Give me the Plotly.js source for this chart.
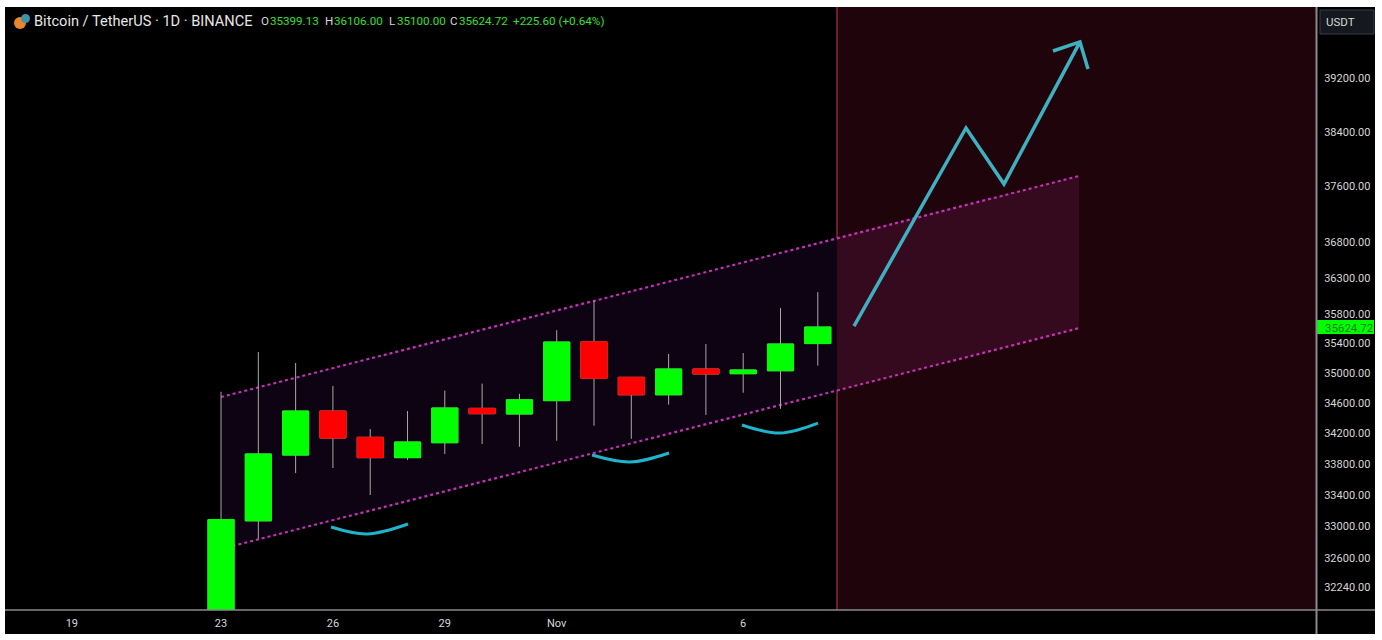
<!DOCTYPE html>
<html>
<head>
<meta charset="utf-8">
<script src="https://cdn.plot.ly/plotly-3.0.1.min.js"></script>
<style>
html,body{margin:0;padding:0;background:#fff;width:1382px;height:640px;overflow:hidden}
#chart{position:absolute;left:5px;top:7px;width:1370px;height:627px}
</style>
</head>
<body>
<div id="chart"></div>
<script>
const days = ['2023-10-23','2023-10-24','2023-10-25','2023-10-26','2023-10-27','2023-10-28','2023-10-29','2023-10-30','2023-10-31','2023-11-01','2023-11-02','2023-11-03','2023-11-04','2023-11-05','2023-11-06','2023-11-07','2023-11-08'];
const opens  = [31800,33070,33916,34494,34148,33882,34077,34530,34455,34632,35424,34944,34710,35055,34992,35032,35399.13];
const highs  = [34750,35285,35136,34829,34257,34494,34766,34859,34723,35582,35988,34948,35258,35393,35271,35885,36106];
const lows   = [31700,32841,33683,33748,33399,33852,33930,34060,34025,34103,34300,34129,34579,34442,34737,34523,35100];
const closes = [33086,33930,34494,34138,33882,34086,34534,34459,34643,35420,34930,34710,35055,34988,35042,35393,35624.72];

const yTickVals = [39200,38400,37600,36800,36300,35800,35400,35000,34600,34200,33800,33400,33000,32600,32240];
const xTickVals = ['2023-10-19','2023-10-23','2023-10-26','2023-10-29','2023-11-01','2023-11-06'];
const xTickText = ['19','23','26','29','Nov','6'];

const channelX = ['2023-10-23 00:00','2023-11-15 00:04'];
const channelTopY = [34681,37752];
const channelBotY = [32715,35609];
const sessionLine = '2023-11-08 12:22';
const channelTopAtSession = 36866;
const channelBotAtSession = 34775;

const forecastX = ['2023-11-08 23:18','2023-11-11 23:21','2023-11-12 23:48','2023-11-15 00:42','2023-11-14 07:20','2023-11-15 00:42','2023-11-15 05:51'];
const forecastY = [35638,38455,37636,39746,39608,39746,39336];

const arc1X = ['2023-10-25 22:47','2023-10-26 21:56','2023-10-28 00:19'];
const arc1Y = [32992,32904,33030];
const arc2X = ['2023-11-01 22:42','2023-11-02 23:10','2023-11-04 00:16'];
const arc2Y = [33916,33826,33943];
const arc3X = ['2023-11-05 23:14','2023-11-06 23:41','2023-11-08 00:07'];
const arc3Y = [34309,34204,34335];

const xRange = ['2023-10-17 05:00','2023-11-21 08:34'];
const yRange = [31957,40283];
const lastPrice = 35624.72;

const UP='#00ff00', DOWN='#ff0000', WICK='#a8a8a8', TEAL='#3fb0bf', ARC='#1fb4cc', MAG='#c531b8', TXT='#d6d6d6', AXIS='#8a8a8a';
const PW=1311, PH=603;
const px=v=>(v-5)/PW, py=v=>(610-v)/PH;
const u=s=>s.replace(' ','_');

const wickTrace={type:'candlestick',x:days,open:opens,high:highs,low:lows,close:closes,
  increasing:{line:{color:WICK,width:1},fillcolor:UP},
  decreasing:{line:{color:WICK,width:1},fillcolor:DOWN},
  whiskerwidth:0,hoverinfo:'skip',showlegend:false};
const bodyTrace={type:'candlestick',x:days,open:opens,close:closes,
  high:opens.map((o,i)=>Math.max(o,closes[i])),
  low:opens.map((o,i)=>Math.min(o,closes[i])),
  increasing:{line:{color:UP,width:1},fillcolor:UP},
  decreasing:{line:{color:DOWN,width:1},fillcolor:DOWN},
  whiskerwidth:0,hoverinfo:'skip',showlegend:false};
const lineTrace=(x,y,color,w,shape)=>({type:'scatter',mode:'lines',x,y,line:{color,width:w,shape:shape||'linear',smoothing:1.0},hoverinfo:'skip',showlegend:false});

const shapes=[
 {type:'rect',layer:'below',xref:'x',yref:'paper',x0:sessionLine,x1:xRange[1],y0:0,y1:1,fillcolor:'#20040c',line:{width:0}},
 {type:'path',layer:'below',xref:'x',yref:'y',
  path:`M ${u(channelX[0])} ${channelTopY[0]} L ${u(sessionLine)} ${channelTopAtSession} L ${u(sessionLine)} ${channelBotAtSession} L ${u(channelX[0])} ${channelBotY[0]} Z`,
  fillcolor:'#0e0312',line:{width:0}},
 {type:'path',layer:'below',xref:'x',yref:'y',
  path:`M ${u(sessionLine)} ${channelTopAtSession} L ${u(channelX[1])} ${channelTopY[1]} L ${u(channelX[1])} ${channelBotY[1]} L ${u(sessionLine)} ${channelBotAtSession} Z`,
  fillcolor:'#350a1f',line:{width:0}},
 {type:'line',layer:'below',xref:'x',yref:'paper',x0:sessionLine,x1:sessionLine,y0:0,y1:1,line:{color:'#86293a',width:1.5}},
 {type:'line',layer:'below',xref:'x',yref:'y',x0:channelX[0],x1:channelX[1],y0:channelTopY[0],y1:channelTopY[1],line:{color:MAG,width:2.2,dash:'3px,3px'}},
 {type:'line',layer:'below',xref:'x',yref:'y',x0:channelX[0],x1:channelX[1],y0:channelBotY[0],y1:channelBotY[1],line:{color:MAG,width:2.2,dash:'3px,3px'}},
 {type:'rect',xref:'paper',yref:'paper',x0:px(1320),x1:px(1374),y0:py(34),y1:py(10),fillcolor:'#15181f',line:{color:'#3a3d45',width:1}},
 {type:'rect',xref:'paper',yref:'paper',x0:px(1317),x1:px(1374),y0:py(334),y1:py(320),fillcolor:UP,line:{width:0}},
 {type:'circle',xref:'paper',yref:'paper',x0:px(14),x1:px(26),y0:py(29),y1:py(17),fillcolor:'#e8862e',line:{width:0}},
 {type:'circle',xref:'paper',yref:'paper',x0:px(21),x1:px(30),y0:py(23),y1:py(14),fillcolor:'#3f93a8',line:{width:0}},
 {type:'line',xref:'paper',yref:'paper',x0:px(4.5),x1:px(4.5),y0:py(7),y1:py(634),line:{color:'#9a9a9a',width:1}},
 {type:'line',xref:'paper',yref:'paper',x0:px(1316.5),x1:px(1316.5),y0:py(7),y1:py(634),line:{color:AXIS,width:2}},
 {type:'line',xref:'paper',yref:'paper',x0:px(5),x1:px(1375),y0:0,y1:0,line:{color:AXIS,width:1.5}}
];

const ann=(x,y,text,color,size,anchor)=>({xref:'paper',yref:'paper',x:px(x),y:py(y),text,showarrow:false,xanchor:anchor||'left',yanchor:'middle',font:{family:'Roboto, sans-serif',size,color}});
const GRN='#33e033', LBL='#d6d6d6';
const annotations=[
 ann(32,21,'Bitcoin / TetherUS · 1D · BINANCE','#e6e6e6',14.6),
 ann(259,21.5,'O',LBL,11.6), ann(268,21.5,'35399.13',GRN,11.6),
 ann(323,21.5,'H',LBL,11.6), ann(332,21.5,'36106.00',GRN,11.6),
 ann(387,21.5,'L',LBL,11.6), ann(395,21.5,'35100.00',GRN,11.6),
 ann(448,21.5,'C',LBL,11.6), ann(457,21.5,'35624.72',GRN,11.6),
 ann(511,21.5,'+225.60 (+0.64%)',GRN,11.7),
 ann(1324,22,'USDT',LBL,11.5),
 ann(1323,327.5,lastPrice.toFixed(2),'#067a06',11.5)
];

const layout={
 width:1370,height:627,margin:{l:0,t:0,r:59,b:24,pad:0},
 paper_bgcolor:'#000',plot_bgcolor:'#000',showlegend:false,boxmode:'overlay',boxgap:0,
 font:{family:'Roboto, sans-serif',color:TXT,size:11},
 xaxis:{type:'date',range:xRange,rangeslider:{visible:false},tickmode:'array',tickvals:xTickVals,ticktext:xTickText,
   showgrid:false,zeroline:false,showline:false,ticks:'outside',ticklen:3,tickcolor:'rgba(0,0,0,0)',tickfont:{size:11,color:TXT},fixedrange:true},
 yaxis:{type:'log',side:'right',range:yRange.map(Math.log10),tickmode:'array',tickvals:yTickVals,ticktext:yTickVals.map(v=>v.toFixed(2)),
   showgrid:false,zeroline:false,showline:false,ticks:'outside',ticklen:5,tickcolor:'rgba(0,0,0,0)',tickfont:{size:11,color:TXT},fixedrange:true},
 shapes,annotations
};

Plotly.newPlot('chart',[wickTrace,bodyTrace,
  lineTrace(arc1X,arc1Y,ARC,3,'spline'),lineTrace(arc2X,arc2Y,ARC,3,'spline'),lineTrace(arc3X,arc3Y,ARC,3,'spline'),
  lineTrace(forecastX,forecastY,TEAL,3.5)],layout,{displayModeBar:false,responsive:false,staticPlot:true});
</script>
</body>
</html>
